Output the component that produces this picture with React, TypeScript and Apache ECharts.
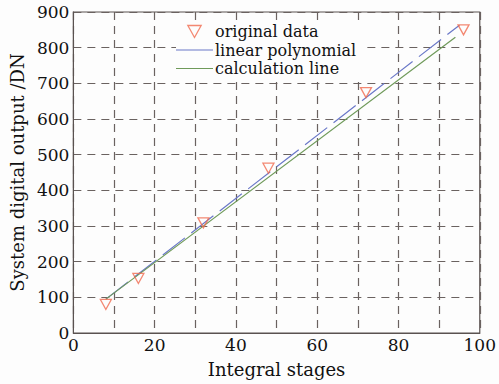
import React, { useEffect, useRef } from "react";
import * as echarts from "echarts";

const origX = [8, 16, 32, 48, 72, 96];
const origY = [80, 153, 309, 462, 674, 850];
const linearX = [8, 95];
const linearY = [95, 863];
const calcX = [8, 94];
const calcY = [95, 829];
const FONT = "DejaVu Serif";

export default function App() {
  const ref = useRef<HTMLDivElement>(null);
  useEffect(() => {
    const chart = echarts.init(ref.current!, null, { renderer: "svg" });
    const frame = "#5a5250";
    const tri = "path://M0,0 L10,0 L5,9 Z";
    chart.setOption({
      animation: false,
      backgroundColor: "#fdfdfd",
      grid: { left: 70, right: 19, top: 12, bottom: 51, show: true, borderColor: frame, borderWidth: 1.2 },
      legend: {
        orient: "vertical",
        left: 176,
        top: 20,
        itemGap: 1.5,
        itemWidth: 37,
        itemHeight: 12,
        padding: [3, 6, 3, 0],
        backgroundColor: "#fdfdfd",
        textStyle: { fontFamily: FONT, fontSize: 16, lineHeight: 17, color: "#111", padding: [0, 0, 0, -3] },
        data: [
          { name: "original data", icon: tri, itemStyle: { color: "none", borderColor: "#f06a4f", borderWidth: 1.3 } },
          { name: "linear polynomial", icon: "path://M0,5 L36,5 L36,5.8 L0,5.8 Z" },
          { name: "calculation line", icon: "path://M0,5 L36,5 L36,5.8 L0,5.8 Z" },
        ],
      },
      xAxis: {
        type: "value",
        min: 0,
        max: 100,
        interval: 10,
        name: "Integral stages",
        nameLocation: "middle",
        nameGap: 27,
        nameTextStyle: { fontFamily: FONT, fontSize: 18, color: "#111" },
        axisLine: { show: true, lineStyle: { color: frame } },
        axisTick: { show: false },
        axisLabel: {
          fontFamily: FONT,
          fontSize: 17,
          color: "#111",
          margin: 3,
          formatter: (v: number) => (v % 20 === 0 ? String(v) : ""),
        },
        splitLine: { show: true, lineStyle: { color: "#6a6260", type: [8, 6], width: 1.2 } },
      },
      yAxis: {
        type: "value",
        min: 0,
        max: 900,
        interval: 100,
        name: "System digital output /DN",
        nameLocation: "middle",
        nameGap: 40,
        nameTextStyle: { fontFamily: FONT, fontSize: 18, color: "#111" },
        axisLine: { show: true, lineStyle: { color: frame } },
        axisTick: { show: false },
        axisLabel: { fontFamily: FONT, fontSize: 17, color: "#111", margin: 4 },
        splitLine: { show: true, lineStyle: { color: "#6a6260", type: [8, 6], width: 1.2 } },
      },
      series: [
        {
          name: "original data",
          type: "scatter",
          symbol: tri,
          symbolSize: [11, 10],
          itemStyle: { color: "none", borderColor: "#f06a4f", borderWidth: 1.3 },
          data: origX.map((x, i) => [x, origY[i]]),
          z: 5,
        },
        {
          name: "linear polynomial",
          type: "line",
          showSymbol: false,
          symbol: "none",
          color: "#6a78c8",
          lineStyle: { color: "#6a78c8", width: 1.2, type: [28, 8] },
          data: linearX.map((x, i) => [x, linearY[i]]),
        },
        {
          name: "calculation line",
          type: "line",
          showSymbol: false,
          symbol: "none",
          color: "#6f9a5a",
          lineStyle: { color: "#6f9a5a", width: 1.2 },
          data: calcX.map((x, i) => [x, calcY[i]]),
        },
      ],
    });
    return () => chart.dispose();
  }, []);
  return <div ref={ref} style={{ position: "fixed", left: 0, top: 0, width: 499, height: 384 }} />;
}
